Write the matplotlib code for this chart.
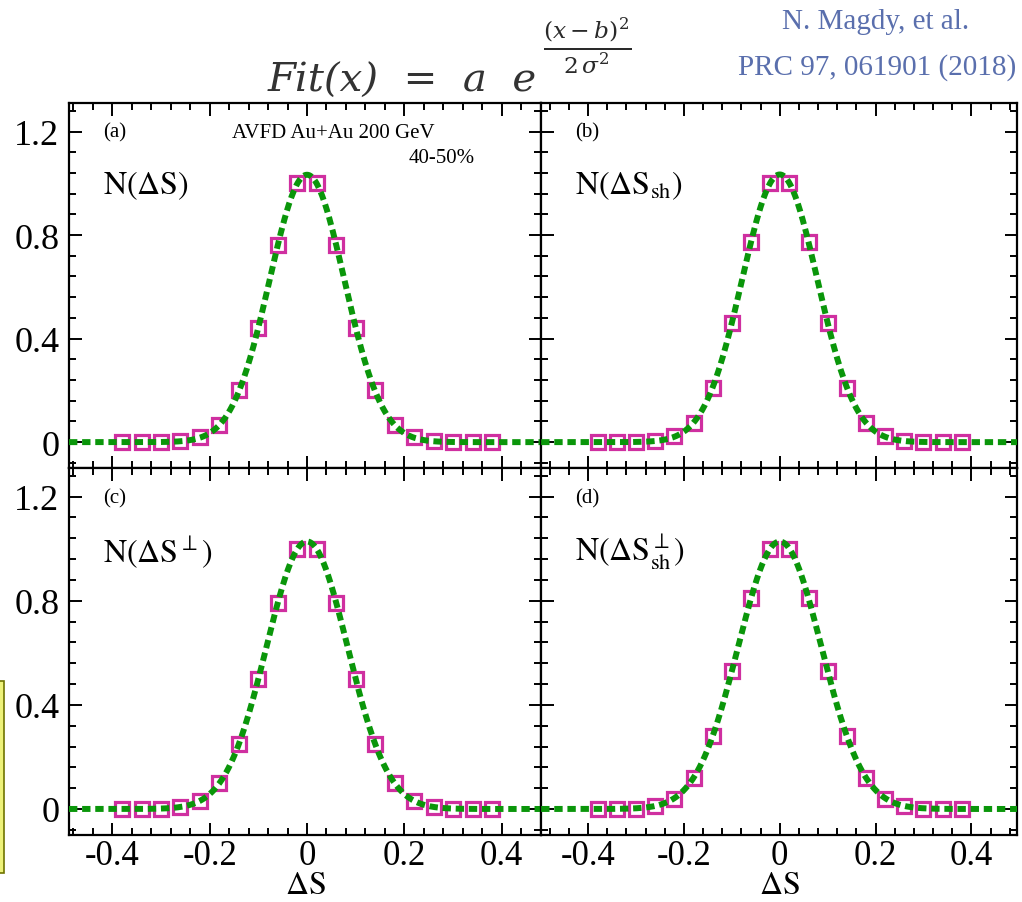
import numpy as np
import matplotlib
matplotlib.use("Agg")
from matplotlib import pyplot as plt
from matplotlib.ticker import MultipleLocator, FixedLocator, FixedFormatter
from matplotlib.patches import Rectangle

# --------------------------------------------
# Data
# --------------------------------------------
ds = [-0.38, -0.34, -0.30, -0.26, -0.22, -0.18, -0.14, -0.10, -0.06, -0.02,
      0.02, 0.06, 0.10, 0.14, 0.18, 0.22, 0.26, 0.30, 0.34, 0.38]

n_ds = [0.0, 0.0, 0.0, 0.004, 0.02, 0.065, 0.20, 0.44, 0.76, 1.0,
        1.0, 0.76, 0.44, 0.20, 0.065, 0.02, 0.004, 0.0, 0.0, 0.0]
n_ds_sh = [0.0, 0.0, 0.0, 0.005, 0.025, 0.075, 0.21, 0.46, 0.775, 1.0,
           1.0, 0.775, 0.46, 0.21, 0.075, 0.025, 0.005, 0.0, 0.0, 0.0]
n_ds_perp = [0.0, 0.0, 0.0, 0.008, 0.03, 0.10, 0.25, 0.50, 0.79, 1.0,
             1.0, 0.79, 0.50, 0.25, 0.10, 0.03, 0.008, 0.0, 0.0, 0.0]
n_ds_perp_sh = [0.0, 0.0, 0.0, 0.01, 0.04, 0.12, 0.28, 0.53, 0.81, 1.0,
                1.0, 0.81, 0.53, 0.28, 0.12, 0.04, 0.01, 0.0, 0.0, 0.0]

panel_tags = ["(a)", "(b)", "(c)", "(d)"]
panel_names = [r"$\mathrm{N(\Delta S)}$",
               r"$\mathrm{N(\Delta S_{sh})}$",
               r"$\mathrm{N(\Delta S^{\perp})}$",
               r"$\mathrm{N(\Delta S^{\perp}_{sh})}$"]
series = [n_ds, n_ds_sh, n_ds_perp, n_ds_perp_sh]

y_ticks = [0, 0.4, 0.8, 1.2]
y_tick_labels = ["0", "0.4", "0.8", "1.2"]
x_ticks = [-0.4, -0.2, 0, 0.2, 0.4]
x_tick_labels = ["-0.4", "-0.2", "0", "0.2", "0.4"]

MARK = "#cf2fa0"
GREEN = "#0a960a"


# --------------------------------------------
# Gaussian fit (log-linear, weighted by y)
# --------------------------------------------
def gauss_fit(x, y):
    x = np.asarray(x)
    y = np.asarray(y)
    keep = y > 0.01
    c2, c1, c0 = np.polyfit(x[keep], np.log(y[keep]), 2, w=y[keep])
    return lambda t: np.exp(c2 * t ** 2 + c1 * t + c0)


plt.rcParams['font.family'] = ['Liberation Serif', 'DejaVu Serif']
plt.rcParams['mathtext.fontset'] = 'stix'

fig = plt.figure(figsize=(10.22, 9.03), dpi=100)

# axes rectangles in figure fractions
lefts = [0.0675, 0.5295, 0.0675, 0.5295]
widths = [0.462, 0.466, 0.462, 0.466]
bottoms = [0.4806, 0.4806, 0.0742, 0.0742]
heights = [0.4042, 0.4042, 0.4064, 0.4064]
xlims = [(-0.489, 0.481), (-0.498, 0.496), (-0.489, 0.481), (-0.498, 0.496)]

for i in range(4):
    ax = fig.add_axes([lefts[i], bottoms[i], widths[i], heights[i]])
    fit = gauss_fit(ds, series[i])
    xx = np.linspace(xlims[i][0], xlims[i][1], 400)

    ax.plot(ds, series[i], linestyle='none', marker='s', markersize=10,
            markerfacecolor='none', markeredgecolor=MARK, markeredgewidth=2.3,
            zorder=2)
    ax.plot(xx, fit(xx), color=GREEN, lw=4.3, linestyle=(0, (1.4, 0.8)),
            dash_capstyle='butt', zorder=3)

    ax.set_xlim(*xlims[i])
    ax.set_ylim(-0.1, 1.31)

    ax.xaxis.set_major_locator(FixedLocator(x_ticks))
    ax.xaxis.set_minor_locator(MultipleLocator(0.04))
    ax.yaxis.set_major_locator(FixedLocator(y_ticks))
    ax.yaxis.set_minor_locator(MultipleLocator(0.08))
    ax.tick_params(which='both', direction='in', top=True, right=True,
                   width=1.4, labelsize=26)
    ax.tick_params(axis='x', labelsize=25)
    ax.tick_params(which='major', length=9)
    ax.tick_params(axis='x', which='major', pad=3)
    ax.tick_params(axis='y', which='major', pad=7)
    ax.tick_params(which='minor', length=5)
    for sp in ax.spines.values():
        sp.set_linewidth(1.6)

    if i % 2 == 0:
        ax.yaxis.set_major_formatter(FixedFormatter(y_tick_labels))
    else:
        ax.set_yticklabels([])
    if i >= 2:
        ax.xaxis.set_major_formatter(FixedFormatter(x_tick_labels))
        ax.set_xlabel(r"$\mathrm{\Delta S}$", fontsize=23, labelpad=-1)
    else:
        ax.set_xticklabels([])

    ax.text(0.072, 0.92, panel_tags[i], transform=ax.transAxes,
            fontsize=15, va='center', ha='left')
    ax.text(0.072, 0.775, panel_names[i], transform=ax.transAxes,
            fontsize=23, va='center', ha='left')

    if i == 0:
        ax.text(0.56, 0.92, "AVFD Au+Au 200 GeV", transform=ax.transAxes,
                fontsize=15, va='center', ha='center')
        ax.text(0.79, 0.85, "40-50%", transform=ax.transAxes,
                fontsize=15, va='center', ha='center')

# fit formula at the top
fig.text(0.262, 0.898, "Fit(x)  =  a  e", fontsize=29, style='italic',
         family='DejaVu Serif', color='#333333', ha='left', va='baseline')
fig.text(0.574, 0.949, r"$\frac{(x-b)^2}{2\,\sigma^2}$", fontsize=24,
         math_fontfamily='dejavuserif', color='#2a2a2a', ha='center', va='center')

# reference
fig.text(0.857, 0.976, "N. Magdy, et al.", fontsize=21, color='#5a6fad',
         ha='center', va='center')
fig.text(0.858, 0.925, "PRC 97, 061901 (2018)", fontsize=21, color='#5a6fad',
         ha='center', va='center')

# partial box at the left edge
fig.patches.append(Rectangle((-0.01, 1 - 874 / 903), 0.0135, 192 / 903,
                             transform=fig.transFigure, facecolor='#eef27a',
                             edgecolor='#6f7400', lw=1.2))

fig.savefig("out.png", dpi=100)
